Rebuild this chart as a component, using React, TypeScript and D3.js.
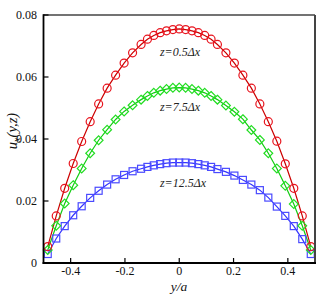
import React from "react";
import * as d3 from "d3";

const positions = [
  -0.4844, -0.4531, -0.4219, -0.3906, -0.3594, -0.3281, -0.2969, -0.2656, -0.2344,
  -0.2031, -0.1719, -0.1406, -0.1172, -0.0938, -0.0703, -0.0469, -0.0234, 0,
  0.0234, 0.0469, 0.0703, 0.0938, 0.1172, 0.1406, 0.1719, 0.2031, 0.2344, 0.2656,
  0.2969, 0.3281, 0.3594, 0.3906, 0.4219, 0.4531, 0.4844,
];

const redValues = [
  0.0053, 0.0152, 0.0241, 0.0321, 0.0392, 0.0456, 0.0513, 0.0564, 0.0606,
  0.0645, 0.0678, 0.0705, 0.0722, 0.0734, 0.0743, 0.0749, 0.0753, 0.0755,
  0.0753, 0.0749, 0.0743, 0.0734, 0.0722, 0.0705, 0.0678, 0.0645, 0.0606, 0.0564,
  0.0513, 0.0456, 0.0393, 0.0320, 0.0241, 0.0152, 0.0053,
];

const greenValues = [
  0.0042, 0.0120, 0.0192, 0.0251, 0.0305, 0.0354, 0.0396, 0.0430, 0.0463,
  0.0489, 0.0509, 0.0527, 0.0539, 0.0549, 0.0556, 0.0561, 0.0565, 0.0566,
  0.0565, 0.0561, 0.0556, 0.0549, 0.0539, 0.0527, 0.0508, 0.0488, 0.0464, 0.0429,
  0.0397, 0.0354, 0.0305, 0.0249, 0.0190, 0.0120, 0.0042,
];

const blueValues = [
  0.0029, 0.0079, 0.0119, 0.0154, 0.0183, 0.0210, 0.0233, 0.0253, 0.0270,
  0.0284, 0.0296, 0.0304, 0.0310, 0.0315, 0.0319, 0.0322, 0.0324, 0.0324,
  0.0324, 0.0322, 0.0319, 0.0315, 0.0310, 0.0303, 0.0294, 0.0282, 0.0268, 0.0253,
  0.0235, 0.0211, 0.0182, 0.0152, 0.0119, 0.0077, 0.0029,
];

const xTicks = [-0.4, -0.2, 0, 0.2, 0.4];
const xTickLabels = ["-0.4", "-0.2", "0", "0.2", "0.4"];
const yTicks = [0, 0.02, 0.04, 0.06, 0.08];
const yTickLabels = ["0", "0.02", "0.04", "0.06", "0.08"];

const W = 332;
const H = 296;
const L = 43.5;
const R = 315;
const T = 15;
const B = 263;

export default function App() {
  const x = d3.scaleLinear().domain([-0.5, 0.5]).range([L, R]);
  const y = d3.scaleLinear().domain([0, 0.08]).range([B, T]);
  const line = d3
    .line<number>()
    .x((_, i) => x(positions[i]))
    .y((d) => y(d));

  const serif = "'Liberation Serif', 'DejaVu Serif', serif";

  const red = "#e8141e";
  const green = "#22dd22";
  const blue = "#4a4aff";

  return (
    <svg
      width={W}
      height={H}
      style={{ position: "absolute", left: 0, top: 0, background: "#fff" }}
      fontFamily={serif}
    >
      <rect x={0} y={0} width={W} height={H} fill="#fff" />
      {/* lines */}
      <path d={line(blueValues) || ""} fill="none" stroke="#3434ff" strokeWidth={1.2} />
      <path d={line(greenValues) || ""} fill="none" stroke="#11cc11" strokeWidth={1.2} />
      <path d={line(redValues) || ""} fill="none" stroke="#cc0000" strokeWidth={1.2} />
      {/* blue squares */}
      {blueValues.map((v, i) => (
        <rect
          key={"b" + i}
          x={x(positions[i]) - 3.5}
          y={y(v) - 3.5}
          width={7}
          height={7}
          fill="none"
          stroke={blue}
          strokeWidth={1.2}
        />
      ))}
      {/* green diamonds */}
      {greenValues.map((v, i) => {
        const cx = x(positions[i]);
        const cy = y(v);
        const s = 4.4;
        return (
          <path
            key={"g" + i}
            d={`M${cx},${cy - s}L${cx + s},${cy}L${cx},${cy + s}L${cx - s},${cy}Z`}
            fill="none"
            stroke={green}
            strokeWidth={1.2}
          />
        );
      })}
      {/* red circles */}
      {redValues.map((v, i) => (
        <circle
          key={"r" + i}
          cx={x(positions[i])}
          cy={y(v)}
          r={4}
          fill="none"
          stroke={red}
          strokeWidth={1.2}
        />
      ))}
      {/* frame */}
      <line x1={L} y1={T} x2={R} y2={T} stroke="#444" strokeWidth={1.5} />
      <line x1={R} y1={T} x2={R} y2={B} stroke="#444" strokeWidth={2} />
      <line x1={L} y1={T - 0.75} x2={L} y2={B + 1} stroke="#000" strokeWidth={1.8} />
      <line x1={L - 0.9} y1={B} x2={R + 1} y2={B} stroke="#000" strokeWidth={1.8} />
      {/* x ticks */}
      {xTicks.map((t, i) => (
        <g key={"xt" + i}>
          <line x1={x(t)} y1={B} x2={x(t)} y2={B - 5} stroke="#000" strokeWidth={1.2} />
          <text x={x(t)} y={275} fontSize={12} textAnchor="middle" fill="#111">
            {xTickLabels[i]}
          </text>
        </g>
      ))}
      {/* y ticks */}
      {yTicks.map((t, i) => (
        <g key={"yt" + i}>
          <line x1={L} y1={y(t)} x2={L + 5} y2={y(t)} stroke="#000" strokeWidth={1.2} />
          <text x={37} y={y(t) + 4} fontSize={12} textAnchor="end" fill="#111">
            {yTickLabels[i]}
          </text>
        </g>
      ))}
      {/* axis labels */}
      <text x={179} y={291} fontSize={13.5} textAnchor="middle" fontStyle="italic" fill="#111">
        y/a
      </text>
      <text
        transform="translate(17,131) rotate(-90)"
        fontSize={14.5}
        textAnchor="middle"
        fontStyle="italic"
        fill="#111"
      >
        <tspan>u</tspan>
        <tspan fontSize={10} dy={3}>x</tspan>
        <tspan dy={-3}>(y,z)</tspan>
      </text>
      {/* annotations */}
      <text x={180} y={56} fontSize={12} textAnchor="middle" fontStyle="italic" fill="#222">
        z=0.5Δx
      </text>
      <text x={180} y={111} fontSize={12} textAnchor="middle" fontStyle="italic" fill="#222">
        z=7.5Δx
      </text>
      <text x={183} y={187} fontSize={12} textAnchor="middle" fontStyle="italic" fill="#222">
        z=12.5Δx
      </text>
    </svg>
  );
}
